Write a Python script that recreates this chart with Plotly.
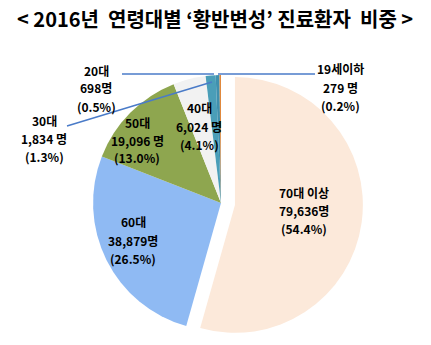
import plotly.graph_objects as go

# 2016 macular degeneration patients by age group
age_groups = ["70대 이상", "60대", "50대", "40대", "30대", "20대", "19세이하"]
patients = [79636, 38879, 19096, 6024, 1834, 698, 279]
count_sep = ["", "", " ", " ", " ", "", " "]
colors = ["#FCE9DA", "#8FBAF3", "#8EA64F", "#F2F2F2", "#4A9EB8", "#3F90AE", "#E0883C"]
pulls = [0.11, 0, 0, 0, 0, 0, 0]

TITLE = "< 2016년  연령대별 ‘황반변성’ 진료환자  비중 >"

W, H = 431, 345
total = sum(patients)
shares = [round(v / total * 100, 1) for v in patients]

# label anchor (x centre, first-line y) in pixels
label_pos = [(304, 192), (133, 222), (137, 122), (199, 108), (44, 120), (96, 70), (340, 69)]
line_gap = 18

# leader lines for the thin slices: (x0, y0, x1, y1) in pixels
leaders = [(67, 126, 212, 82), (122, 74, 214, 74), (315, 74, 218, 74)]


def px(x):
    return x / W


def py(y):
    return 1 - y / H


cx, cy, rt = 221, 203, 142
fig = go.Figure(
    go.Pie(
        labels=age_groups,
        values=patients,
        sort=False,
        direction="clockwise",
        rotation=0,
        pull=pulls,
        marker=dict(colors=colors, line=dict(width=0)),
        textinfo="none",
        hoverinfo="skip",
        showlegend=False,
        domain=dict(x=[px(cx - rt), px(cx + rt)], y=[0, (H - cy + rt) / H]),
    )
)

font = dict(family="Noto Sans CJK KR", size=12, color="#000000")
annotations = []
for name, v, sep, pct, (lx, ly) in zip(age_groups, patients, count_sep, shares, label_pos):
    lines = [name, f"{v:,}{sep}명", f"({pct:.1f}%)"]
    for i, t in enumerate(lines):
        annotations.append(dict(
            text=f"<b>{t}</b>", x=px(lx), y=py(ly + i * line_gap),
            xref="paper", yref="paper", xanchor="center", yanchor="middle",
            showarrow=False, font=font,
        ))

annotations.append(dict(
    text=f"<b>{TITLE}</b>", x=px(215), y=py(18), xref="paper", yref="paper",
    xanchor="center", yanchor="middle", showarrow=False,
    font=dict(family="Noto Sans CJK KR", size=20, color="#000000"),
))

shapes = [
    dict(type="line", xref="paper", yref="paper",
         x0=px(x0), y0=py(y0), x1=px(x1), y1=py(y1),
         line=dict(color="#4A7BC8", width=1.5))
    for x0, y0, x1, y1 in leaders
]

fig.update_layout(
    width=W, height=H,
    margin=dict(l=0, r=0, t=0, b=0),
    paper_bgcolor="#FFFFFF",
    plot_bgcolor="#FFFFFF",
    annotations=annotations,
    shapes=shapes,
)

fig.write_html("out.html")
